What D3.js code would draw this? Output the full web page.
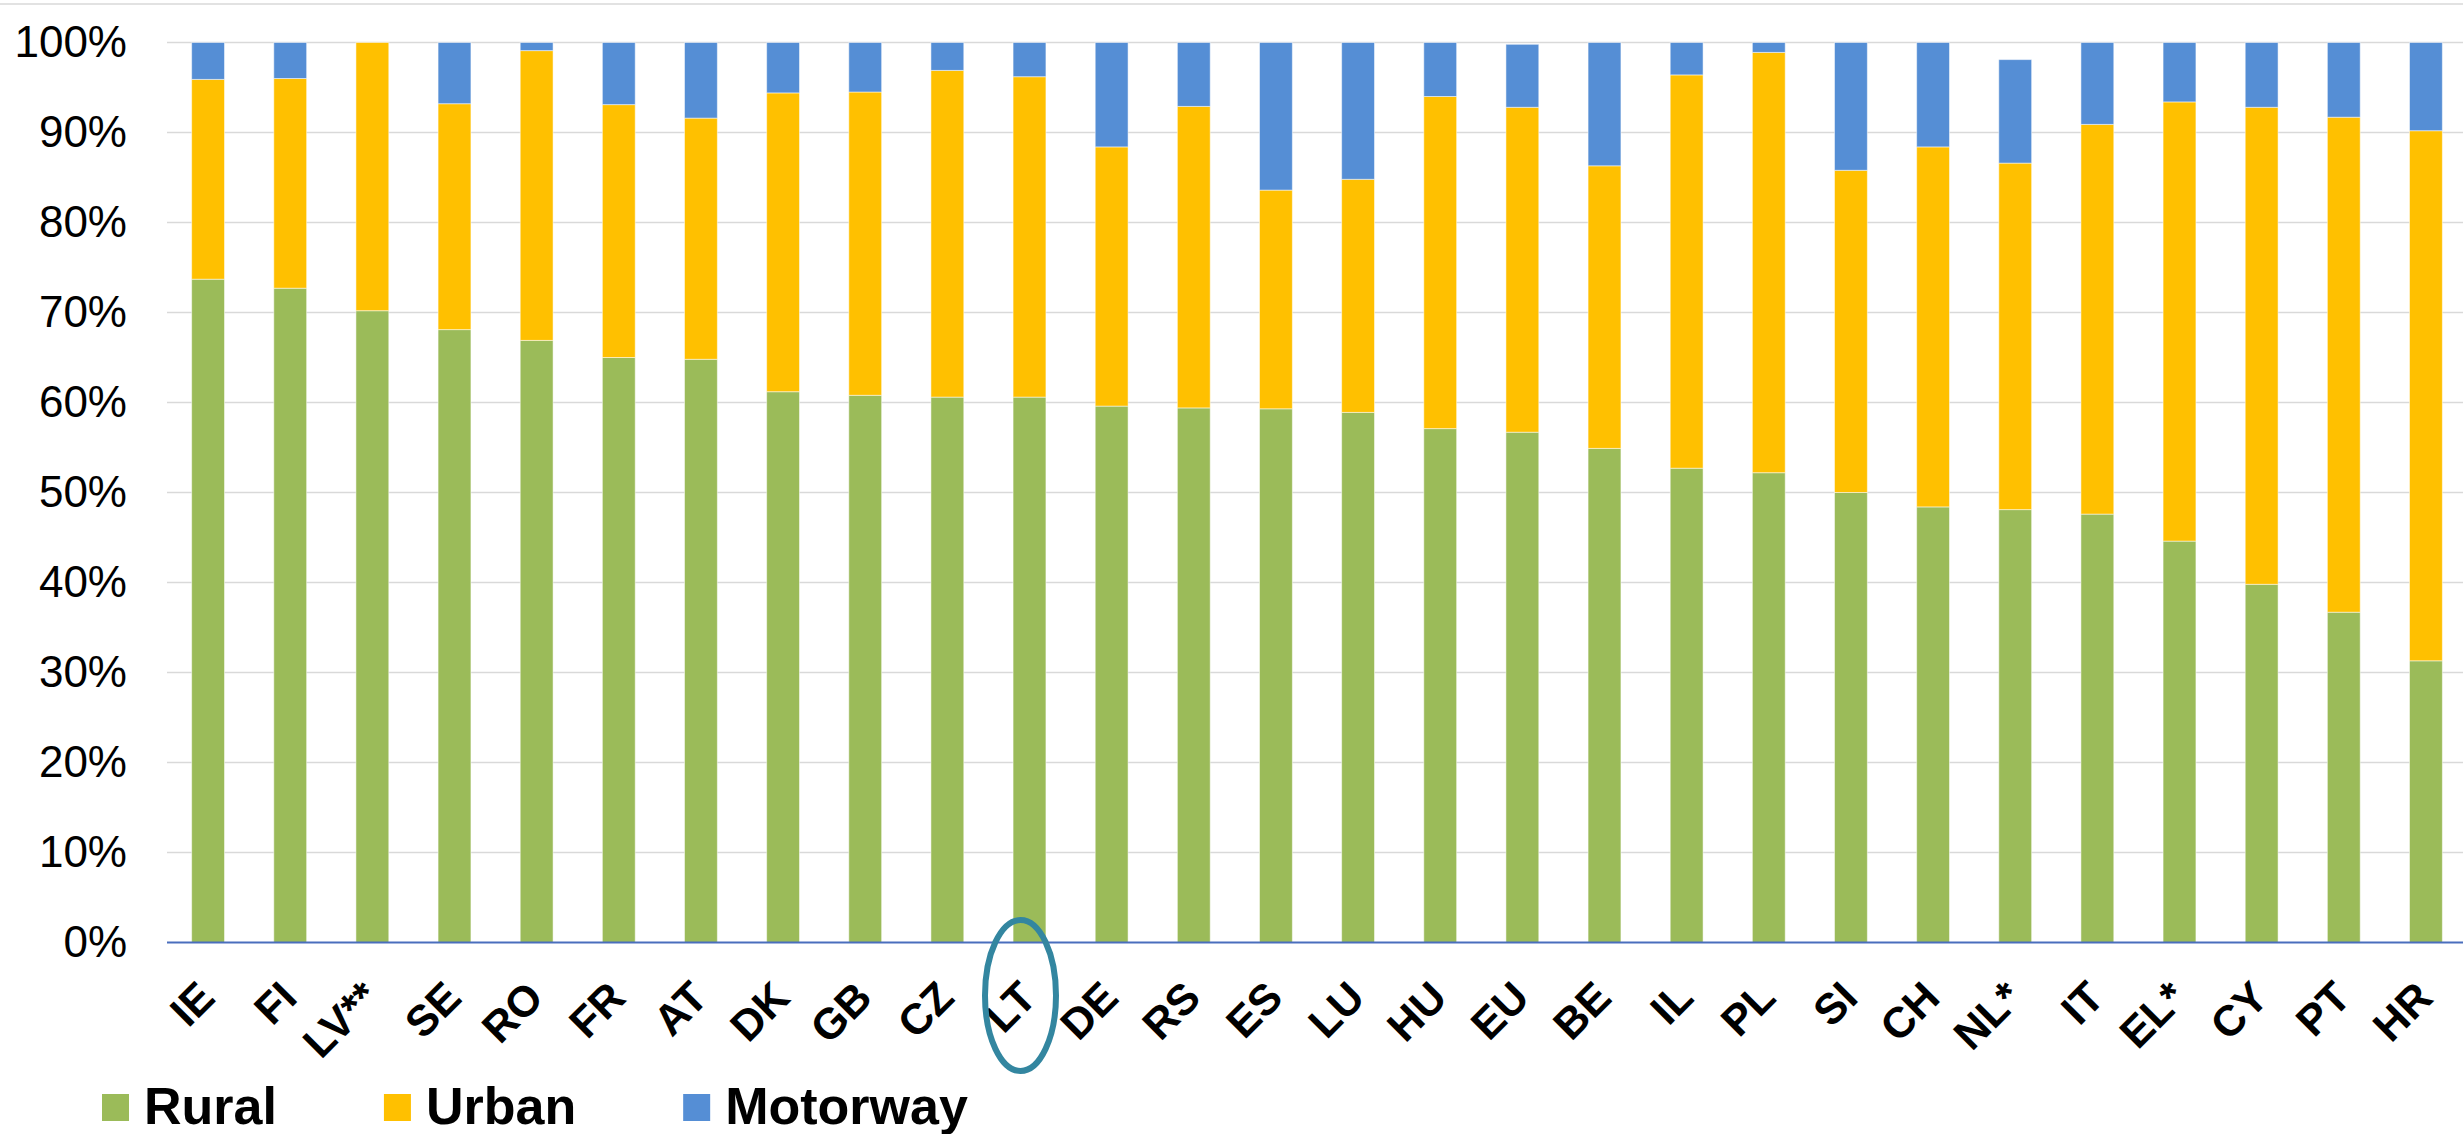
<!DOCTYPE html>
<html>
<head>
<meta charset="utf-8">
<script src="https://cdn.jsdelivr.net/npm/d3@7"></script>
<style>
  html, body { margin: 0; padding: 0; background: #ffffff; }
  svg { display: block; font-family: "Liberation Sans", Arial, sans-serif; }
</style>
</head>
<body>
<svg id="chart" width="2463" height="1134"></svg>
<script>
// Share of road length by road type, per country (%)
const categories = ["IE","FI","LV**","SE","RO","FR","AT","DK","GB","CZ","LT","DE","RS","ES","LU","HU","EU","BE","IL","PL","SI","CH","NL*","IT","EL*","CY","PT","HR"];
const rural    = [73.7, 72.7, 70.2, 68.1, 66.9, 65.0, 64.8, 61.2, 60.8, 60.6, 60.6, 59.6, 59.4, 59.3, 58.9, 57.1, 56.7, 54.9, 52.7, 52.2, 50.0, 48.4, 48.1, 47.6, 44.6, 39.8, 36.7, 31.3];
const urban    = [22.2, 23.3, 29.8, 25.1, 32.2, 28.1, 26.8, 33.2, 33.7, 36.3, 35.6, 28.8, 33.5, 24.3, 25.9, 36.9, 36.1, 31.4, 43.7, 46.7, 35.8, 40.0, 38.5, 43.3, 48.8, 53.0, 55.0, 58.9];
const motorway = [ 4.1,  4.0,  0.0,  6.8,  0.9,  6.9,  8.4,  5.6,  5.5,  3.1,  3.8, 11.6,  7.1, 16.4, 15.2,  6.0,  7.0, 13.7,  3.6,  1.1, 14.2, 11.6, 11.5,  9.1,  6.6,  7.2,  8.3,  9.8];
const seriesNames = ["Rural", "Urban", "Motorway"];
const seriesColors = ["#9bbb59", "#ffc000", "#558ed5"];
const yTicks = [0, 10, 20, 30, 40, 50, 60, 70, 80, 90, 100];
const highlighted = "LT";

const svg = d3.select("#chart");
const W = 2463;
const plot = { left: 167, right: 2467, top: 42.5, bottom: 942.5 };

const rows = categories.map((c, i) => ({ cat: c, Rural: rural[i], Urban: urban[i], Motorway: motorway[i] }));
const stacked = d3.stack().keys(seriesNames)(rows);

const x = d3.scaleBand().domain(categories).range([plot.left, plot.right]).paddingInner(0.6).paddingOuter(0.3);
const y = d3.scaleLinear().domain([0, 100]).range([plot.bottom, plot.top]);
const color = d3.scaleOrdinal().domain(seriesNames).range(seriesColors);

// frame line along the top
svg.append("line").attr("x1", 0).attr("x2", W).attr("y1", 4).attr("y2", 4)
  .attr("stroke", "#d9d9d9").attr("stroke-width", 1.5);

// horizontal gridlines
svg.append("g").selectAll("line").data(yTicks.filter(t => t > 0)).join("line")
  .attr("x1", plot.left).attr("x2", W)
  .attr("y1", d => y(d)).attr("y2", d => y(d))
  .attr("stroke", "#d9d9d9").attr("stroke-width", 1.5);

// stacked bars
svg.append("g").selectAll("g").data(stacked).join("g")
  .attr("fill", d => color(d.key))
  .selectAll("rect").data(d => d).join("rect")
  .attr("x", d => x(d.data.cat))
  .attr("width", x.bandwidth())
  .attr("y", d => y(d[1]))
  .attr("height", d => y(d[0]) - y(d[1]))
  .attr("stroke", "#ffffff").attr("stroke-opacity", 0.5).attr("stroke-width", 1);

// category axis line
svg.append("line").attr("x1", plot.left).attr("x2", W)
  .attr("y1", plot.bottom).attr("y2", plot.bottom)
  .attr("stroke", "#4a6ebd").attr("stroke-width", 2);

// value axis labels
const yAxis = svg.append("g").attr("transform", `translate(${plot.left},0)`)
  .call(d3.axisLeft(y).tickValues(yTicks).tickFormat(d => d + "%").tickSize(0).tickPadding(40));
yAxis.select(".domain").remove();
yAxis.selectAll("text").attr("font-size", 44).attr("fill", "#000")
  .attr("font-family", "'Liberation Sans', Arial, sans-serif");

// category labels, slanted
const xAxis = svg.append("g").attr("transform", `translate(0,${plot.bottom})`)
  .call(d3.axisBottom(x).tickSize(0));
xAxis.select(".domain").remove();
xAxis.selectAll("text")
  .attr("x", 0).attr("y", 0).attr("dy", 0)
  .attr("text-anchor", "end")
  .attr("transform", "translate(9,57.5) rotate(-45)")
  .attr("font-size", 43).attr("font-weight", "bold").attr("fill", "#000")
  .attr("font-family", "'Liberation Sans', Arial, sans-serif");

// ring drawn around the highlighted country
svg.append("ellipse")
  .attr("cx", x(highlighted) + x.bandwidth() / 2 - 9)
  .attr("cy", plot.bottom + 53)
  .attr("rx", 35.5).attr("ry", 75.5)
  .attr("fill", "none").attr("stroke", "#3386a0").attr("stroke-width", 6);

// legend
const legend = svg.append("g");
let lx = 102;
seriesNames.forEach((name, i) => {
  legend.append("rect").attr("x", lx).attr("y", 1094).attr("width", 27).attr("height", 27)
    .attr("fill", seriesColors[i]);
  const t = legend.append("text").attr("x", lx + 42).attr("y", 1124)
    .attr("font-size", 52).attr("font-weight", "bold").attr("fill", "#000")
    .text(name);
  lx = lx + 42 + t.node().getComputedTextLength() + 107;
});
</script>
</body>
</html>
